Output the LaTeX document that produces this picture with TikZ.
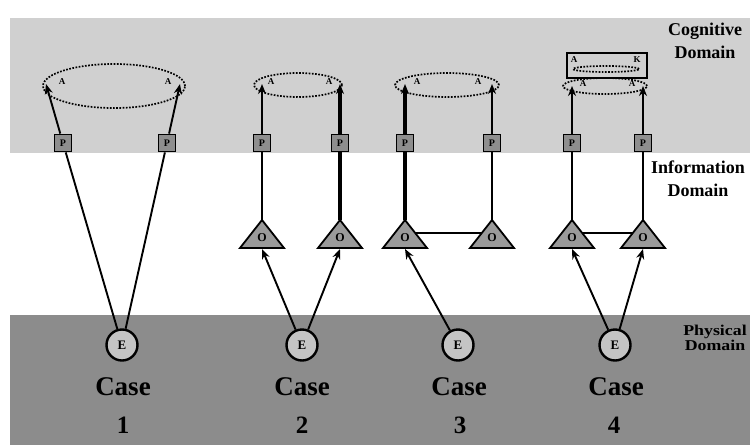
\documentclass[tikz,border=0pt]{standalone}
\usepackage{fontspec}
\setmainfont{Liberation Serif}
\newfontfamily\widefont[FakeStretch=1.19]{Liberation Serif}
\usetikzlibrary{shapes.geometric,arrows.meta}
\definecolor{coggray}{HTML}{D0D0D0}
\definecolor{physgray}{HTML}{8C8C8C}
\definecolor{boxgray}{HTML}{8E8E8E}
\definecolor{trigray}{HTML}{9A9A9A}
\definecolor{circgray}{HTML}{C4C4C4}
\tikzset{
  pbox/.style={draw, line width=1.8pt, fill=boxgray, minimum size=17pt, inner sep=0pt, font=\bfseries\fontsize{10}{10}\selectfont},
  ecirc/.style={circle, draw, line width=2.4pt, fill=circgray, minimum size=31pt, inner sep=0pt, font=\bfseries\fontsize{13}{13}\selectfont},
  olab/.style={inner sep=0pt, font=\bfseries\fontsize{12}{12}\selectfont},
  tri/.style={draw, line width=1.8pt, fill=trigray, line join=miter},
  ring/.style={ellipse, draw, line width=1.7pt, dash pattern=on 1.7pt off 1.5pt, inner sep=0pt},
  alab/.style={inner sep=0pt, font=\bfseries\fontsize{9}{9}\selectfont},
  link/.style={line width=1.9pt},
  heavy/.style={line width=3.4pt},
  arr/.style={-{Stealth[length=10pt,width=8pt]}},
  caselab/.style={inner sep=0pt, font=\bfseries\fontsize{27}{27}\selectfont},
  numlab/.style={inner sep=0pt, font=\bfseries\fontsize{25}{25}\selectfont},
  domlab/.style={inner sep=0pt, align=center, font=\bfseries\fontsize{18}{23}\selectfont},
  physlab/.style={inner sep=0pt, align=center, font=\widefont\bfseries\fontsize{15}{15}\selectfont}
}
\begin{document}
\begin{tikzpicture}[x=1pt,y=-1pt]
\useasboundingbox (0,0) rectangle (750,445);
\fill[white] (0,0) rectangle (750,445);
\fill[coggray] (10,18) rectangle (750,153);
\fill[physgray] (10,315) rectangle (750,445);

% domain labels
\node[domlab] (cogl) at (705,41) {Cognitive\\Domain};
\node[domlab] (infl) at (698,179) {Information\\Domain};
\node[physlab] (phyl) at (715,338) {Physical\\Domain};

% triangles (O nodes)
\foreach \n/\x in {O2a/262, O2b/340, O3a/405, O3b/492, O4a/572, O4b/643} {
  \draw[tri] (\x-22,248) -- (\x,220) -- (\x+22,248) -- cycle;
  \node[olab] (\n) at (\x,238) {O};
  \coordinate (\n-top) at (\x,220);
  \coordinate (\n-base) at (\x,249);
  \coordinate (\n-r) at (\x+10.2,233);
  \coordinate (\n-l) at (\x-10.2,233);
}

% E nodes
\node[ecirc] (E1) at (122,345) {E};
\node[ecirc] (E2) at (302,345) {E};
\node[ecirc] (E3) at (458,345) {E};
\node[ecirc] (E4) at (615,345) {E};

% case labels
\node[caselab] (cs1) at (123,387) {Case};
\node[caselab] (cs2) at (302,387) {Case};
\node[caselab] (cs3) at (459,387) {Case};
\node[caselab] (cs4) at (616,387) {Case};
\node[numlab] (n1) at (123,425) {1};
\node[numlab] (n2) at (302,425) {2};
\node[numlab] (n3) at (460,425) {3};
\node[numlab] (n4) at (614,425) {4};

% cognitive ellipses
\node[ring, minimum width=142pt, minimum height=44pt] (C1) at (114,86) {};
\node[ring, minimum width=88pt, minimum height=24pt] (C2) at (298,85) {};
\node[ring, minimum width=104pt, minimum height=24pt] (C3) at (447,85) {};
\node[ring, minimum width=84pt, minimum height=16pt] (C4) at (605,86) {};
\node[draw, line width=1.6pt, minimum width=80pt, minimum height=25pt, inner sep=0pt] (R4) at (607,65.5) {};
\node[ring, minimum width=66pt, minimum height=6pt] (C4i) at (606,69) {};

% A labels
\node[alab] (a1a) at (62,82) {A};
\node[alab] (a1b) at (168,82) {A};
\node[alab] (a2a) at (271,82) {A};
\node[alab] (a2b) at (329,82) {A};
\node[alab] (a3a) at (417,82) {A};
\node[alab] (a3b) at (478,82) {A};
\node[alab] (a4a) at (583,84) {A};
\node[alab] (a4b) at (632,84) {A};
\node[alab] (k4a) at (574,60) {A};
\node[alab] (k4b) at (637,60) {K};

% arrow tips
\coordinate (t1a) at (46,84);
\coordinate (t1b) at (180,84);
\coordinate (t2a) at (262,84);
\coordinate (t2b) at (340,84);
\coordinate (t3a) at (405,84);
\coordinate (t3b) at (492,84);
\coordinate (t4a) at (572,86);
\coordinate (t4b) at (643,86);

% P nodes
\node[pbox] (P1a) at (63,143) {P};
\node[pbox] (P1b) at (167,143) {P};
\node[pbox] (P2a) at (262,143) {P};
\node[pbox] (P2b) at (340,143) {P};
\node[pbox] (P3a) at (405,143) {P};
\node[pbox] (P3b) at (492,143) {P};
\node[pbox] (P4a) at (572,143) {P};
\node[pbox] (P4b) at (643,143) {P};

% case 1
\draw[link] (E1) -- (P1a);
\draw[link] (E1) -- (P1b);
\draw[link,arr] (P1a) -- (t1a);
\draw[link,arr] (P1b) -- (t1b);

% case 2
\draw[link,arr] (E2) -- (O2a-base);
\draw[link,arr] (E2) -- (O2b-base);
\draw[link] (O2a-top) -- (P2a);
\draw[link,arr] (P2a) -- (t2a);
\draw[heavy] (O2b-top) -- (P2b);
\draw[heavy,arr] (P2b) -- (t2b);

% case 3
\draw[link,arr] (E3) -- (O3a-base);
\draw[heavy] (O3a-top) -- (P3a);
\draw[heavy,arr] (P3a) -- (t3a);
\draw[link] (O3b-top) -- (P3b);
\draw[link,arr] (P3b) -- (t3b);
\draw[link] (O3a-r) -- (O3b-l);

% case 4
\draw[link,arr] (E4) -- (O4a-base);
\draw[link,arr] (E4) -- (O4b-base);
\draw[link] (O4a-top) -- (P4a);
\draw[link,arr] (P4a) -- (t4a);
\draw[link] (O4b-top) -- (P4b);
\draw[link,arr] (P4b) -- (t4b);
\draw[link] (O4a-r) -- (O4b-l);
\end{tikzpicture}
\end{document}
